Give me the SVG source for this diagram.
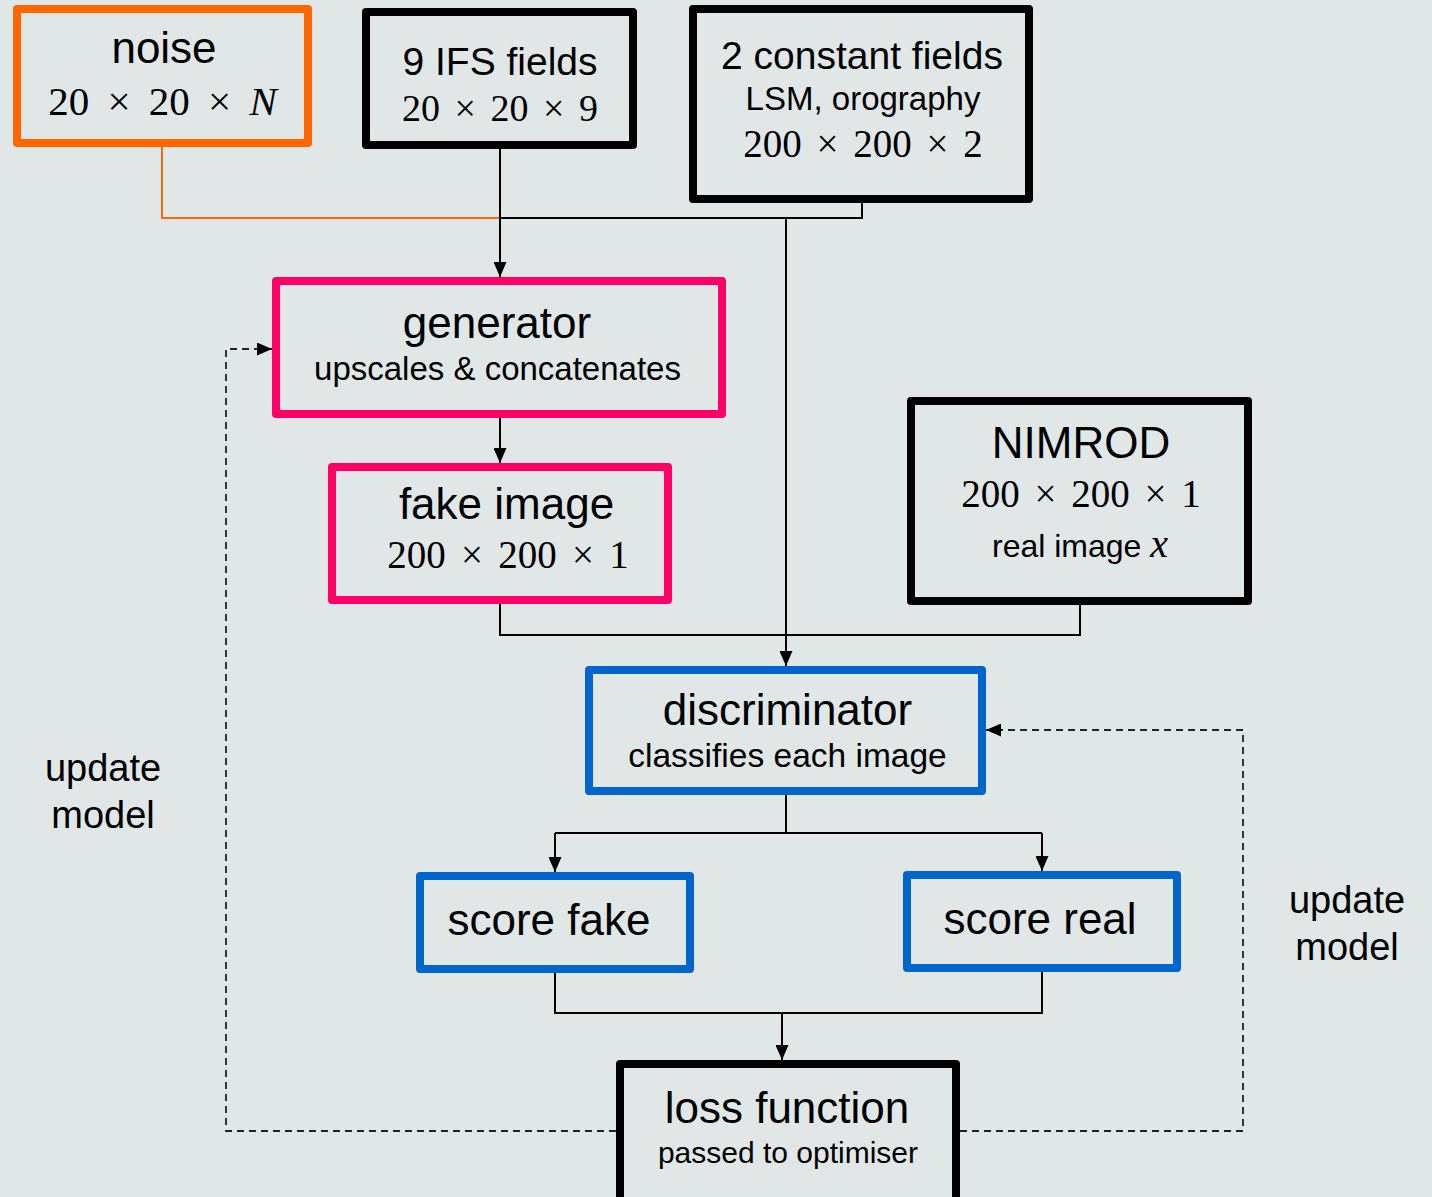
<svg xmlns="http://www.w3.org/2000/svg" width="1432" height="1197" viewBox="0 0 1432 1197">
  <style>
    .box { fill: none; stroke-width: 8; stroke-linejoin: round; }
    .orange { stroke: #FF6600; }
    .black { stroke: #000000; }
    .pink { stroke: #FF0066; }
    .blue { stroke: #0066CC; }
    .t { font-family: "Liberation Sans", Arial, sans-serif; fill: #000; text-anchor: middle; }
    .m { font-family: "Liberation Serif", "Times New Roman", serif; fill: #000; text-anchor: middle; }
    .conn { fill: none; stroke: #000; stroke-width: 2; }
    .dash { fill: none; stroke: #222; stroke-width: 1.8; stroke-dasharray: 7 5; }
  </style>
  <defs>
    <marker id="arrow" markerUnits="userSpaceOnUse" markerWidth="15" markerHeight="13" refX="15" refY="6.5" orient="auto">
      <path d="M0,0 L15,6.5 L0,13 z" fill="#000"/>
    </marker>
  </defs>
  <rect width="1432" height="1197" fill="#E1E7E7"/>

  <g id="connectors">
    <path d="M162,147 V218 H500" fill="none" stroke="#FF6600" stroke-width="2"/>
    <path class="conn" d="M862,203 V218 H500"/>
    <path class="conn" d="M500,149 V277" marker-end="url(#arrow)"/>
    <path class="conn" d="M786,218 V666" marker-end="url(#arrow)"/>
    <path class="conn" d="M500,418 V463" marker-end="url(#arrow)"/>
    <path class="conn" d="M500,604 V635 H1080 V605"/>
    <path class="conn" d="M786,795 V833"/>
    <path class="conn" d="M555,833 H1042"/>
    <path class="conn" d="M555,833 V872" marker-end="url(#arrow)"/>
    <path class="conn" d="M1042,833 V871" marker-end="url(#arrow)"/>
    <path class="conn" d="M555,973 V1013 H1042 V972"/>
    <path class="conn" d="M782,1013 V1060" marker-end="url(#arrow)"/>
    <path class="dash" d="M616,1131 H226 V349 H272" marker-end="url(#arrow)"/>
    <path class="dash" d="M960,1131 H1243 V730 H986" marker-end="url(#arrow)"/>
  </g>

  <g id="noise">
    <rect class="box orange" x="17" y="9" width="291" height="134"/>
    <text class="t" x="164" y="63" font-size="44">noise</text>
    <text class="m" x="162.5" y="115" font-size="41" word-spacing="8">20 × 20 × <tspan font-style="italic">N</tspan></text>
  </g>

  <g id="ifs">
    <rect class="box black" x="366" y="12" width="267" height="133"/>
    <text class="t" x="500" y="75" font-size="39">9 IFS fields</text>
    <text class="m" x="500" y="121" font-size="38" word-spacing="5">20 × 20 × 9</text>
  </g>

  <g id="constants">
    <rect class="box black" x="693" y="9" width="336" height="190"/>
    <text class="t" x="862" y="69" font-size="39">2 constant fields</text>
    <text class="t" x="863" y="110" font-size="33">LSM, orography</text>
    <text class="m" x="863" y="157" font-size="39" word-spacing="5">200 × 200 × 2</text>
  </g>

  <g id="generator">
    <rect class="box pink" x="276" y="281" width="446" height="133"/>
    <text class="t" x="497" y="338" font-size="44">generator</text>
    <text class="t" x="497.5" y="380" font-size="33">upscales &amp; concatenates</text>
  </g>

  <g id="fake-image">
    <rect class="box pink" x="332" y="467" width="336" height="133"/>
    <text class="t" x="506.5" y="519" font-size="44">fake image</text>
    <text class="m" x="508" y="568" font-size="39" word-spacing="5.5">200 × 200 × 1</text>
  </g>

  <g id="nimrod">
    <rect class="box black" x="911" y="401" width="337" height="200"/>
    <text class="t" x="1081" y="458" font-size="44">NIMROD</text>
    <text class="m" x="1081" y="507" font-size="39" word-spacing="5">200 × 200 × 1</text>
    <text class="t" x="1080" y="557" font-size="32">real image <tspan font-family="Liberation Serif, serif" font-style="italic" font-size="40">x</tspan></text>
  </g>

  <g id="discriminator">
    <rect class="box blue" x="589" y="670" width="393" height="121"/>
    <text class="t" x="787.5" y="725" font-size="44">discriminator</text>
    <text class="t" x="787.5" y="767" font-size="33.5">classifies each image</text>
  </g>

  <g id="score-fake">
    <rect class="box blue" x="420" y="876" width="270" height="93"/>
    <text class="t" x="549" y="935" font-size="44">score fake</text>
  </g>

  <g id="score-real">
    <rect class="box blue" x="907" y="875" width="270" height="93"/>
    <text class="t" x="1040" y="934" font-size="44">score real</text>
  </g>

  <g id="loss-function">
    <rect class="box black" x="620" y="1064" width="336" height="140"/>
    <text class="t" x="787" y="1123" font-size="44">loss function</text>
    <text class="t" x="788" y="1163" font-size="30">passed to optimiser</text>
  </g>

  <g id="label-left">
    <text class="t" x="103" y="781" font-size="38">update</text>
    <text class="t" x="103" y="828" font-size="38">model</text>
  </g>

  <g id="label-right">
    <text class="t" x="1347" y="913" font-size="38">update</text>
    <text class="t" x="1347" y="960" font-size="38">model</text>
  </g>
</svg>
